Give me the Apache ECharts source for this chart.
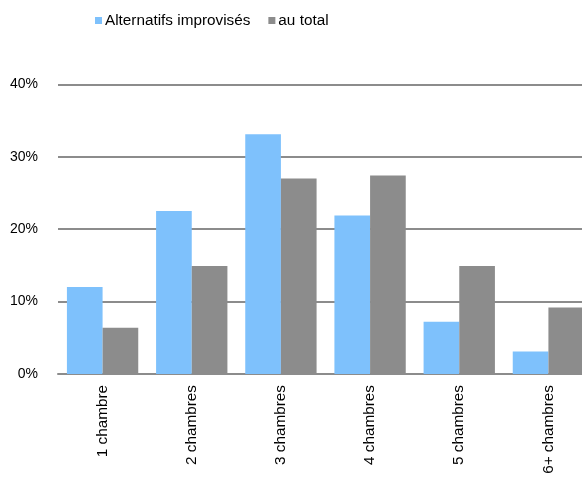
<!DOCTYPE html>
<html>
<head>
<meta charset="utf-8">
<script src="https://cdn.jsdelivr.net/npm/echarts@6/dist/echarts.min.js"></script>
<style>html,body{margin:0;padding:0;background:#fff;}#c{width:582px;height:477px;}</style>
</head>
<body>
<div id="c"></div>
<script>
const categories = ['1 chambre', '2 chambres', '3 chambres', '4 chambres', '5 chambres', '6+ chambres'];
const seriesNames = ['Alternatifs improvisés', 'au total'];
const alternatifs = [12.0, 22.5, 33.1, 21.9, 7.2, 3.1];
const auTotal = [6.4, 14.9, 27.0, 27.4, 14.9, 9.2];
const yTicks = { min: 0, max: 40, interval: 10 };

const chart = echarts.init(document.getElementById('c'), null, { renderer: 'canvas' });
const font = 'Liberation Sans, Arial, sans-serif';
chart.setOption({
  animation: false,
  backgroundColor: '#fff',
  textStyle: { fontFamily: font },
  legend: {
    left: 95, top: 13, padding: 0,
    itemWidth: 7, itemHeight: 7, itemGap: 18,
    icon: 'rect',
    textStyle: { fontSize: 15.3, color: '#000', fontFamily: font, padding: [0, 0, 0, -2] },
    data: seriesNames
  },
  grid: { left: 58, top: 84.4, right: -11, bottom: 103, containLabel: false, outerBoundsMode: 'none' },
  xAxis: {
    type: 'category',
    data: categories,
    axisLine: { show: true, lineStyle: { color: '#8c8c8c', width: 2 } },
    axisTick: { show: false },
    axisLabel: { rotate: 90, fontSize: 15.3, color: '#000', margin: 11, fontFamily: font, interval: 0 }
  },
  yAxis: {
    type: 'value',
    min: yTicks.min, max: yTicks.max, interval: yTicks.interval,
    axisLine: { show: false },
    axisTick: { show: false },
    axisLabel: { formatter: '{value}%', fontSize: 14, color: '#000', margin: 20, fontFamily: font },
    splitLine: { show: true, lineStyle: { color: '#8c8c8c', width: 2 } }
  },
  series: [
    { name: seriesNames[0], type: 'bar', data: alternatifs, barGap: '0%', barCategoryGap: '20%',
      itemStyle: { color: '#7ec1fc' } },
    { name: seriesNames[1], type: 'bar', data: auTotal, barGap: '0%', barCategoryGap: '20%',
      itemStyle: { color: '#8c8c8c' } }
  ]
});
</script>
</body>
</html>
